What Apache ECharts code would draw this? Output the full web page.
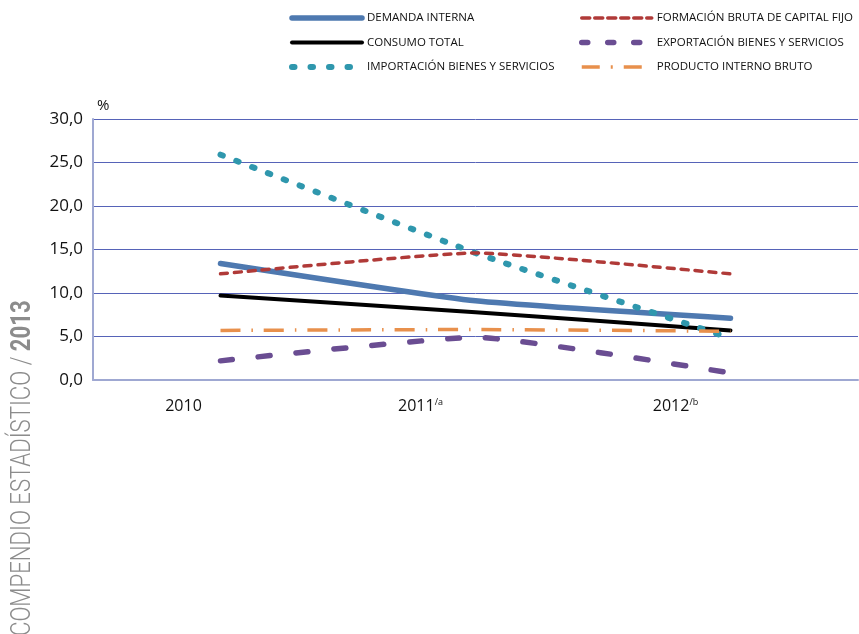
<!DOCTYPE html>
<html>
<head>
<meta charset="utf-8">
<script src="https://cdn.jsdelivr.net/npm/echarts@6/dist/echarts.min.js"></script>
<style>
  html, body { margin: 0; padding: 0; background: #fff; }
  #chart { width: 859px; height: 634px; }
</style>
</head>
<body>
<div id="chart"></div>
<script>
// datos
const years = ['2010', '2011', '2012']
const yearNotes = ['', '/a', '/b']
const demandaInterna = [13.4, 9.1, 7.1]
const consumoTotal = [9.7, 7.8, 5.7]
const importacion = [25.9, 14.6, 4.8]
const formacionBruta = [12.2, 14.6, 12.2]
const exportacion = [2.2, 4.9, 0.8]
const pib = [5.7, 5.8, 5.6]
const yTicks = [0, 5, 10, 15, 20, 25, 30]

const font = 'Open Sans'
const chart = echarts.init(document.getElementById('chart'), null, { renderer: 'canvas' })

// estilos de cada serie
const styles = {
  'DEMANDA INTERNA': { color: '#4e79b0', width: 5.5, type: 'solid', cap: 'round' },
  'CONSUMO TOTAL': { color: '#000000', width: 4, type: 'solid', cap: 'round' },
  'IMPORTACIÓN BIENES Y SERVICIOS': { color: '#2f97ad', width: 6, type: [2.5, 14.5], cap: 'round' },
  'FORMACIÓN BRUTA DE CAPITAL FIJO': { color: '#b03a38', width: 3.5, type: [7, 7], cap: 'round' },
  'EXPORTACIÓN BIENES Y SERVICIOS': { color: '#6a4d92', width: 5.5, type: [12, 26], cap: 'round' },
  'PRODUCTO INTERNO BRUTO': { color: '#e8904c', width: 3.5, type: [20, 11, 1.5, 11], cap: 'butt' }
}

function line (name, data) {
  const s = styles[name]
  return {
    name: name,
    type: 'line',
    data: data,
    symbol: 'none',
    smooth: 0.15,
    lineStyle: { color: s.color, width: s.width, type: s.type, cap: s.cap },
    itemStyle: { color: s.color }
  }
}

function legendItem (name) {
  const s = styles[name]
  let t = s.type
  if (name === 'IMPORTACIÓN BIENES Y SERVICIOS') t = [2.5, 16]
  if (name === 'FORMACIÓN BRUTA DE CAPITAL FIJO') t = [8, 5]
  if (name === 'EXPORTACIÓN BIENES Y SERVICIOS') t = [6, 20]
  if (name === 'PRODUCTO INTERNO BRUTO') t = [18, 11, 2, 11]
  return {
    name: name,
    itemStyle: { opacity: 0 },
    lineStyle: { color: s.color, width: s.width, type: t, cap: s.cap }
  }
}

const legendBase = {
  orient: 'vertical',
  top: 7,
  itemWidth: 70,
  itemHeight: 10,
  itemGap: 12.5,
  textStyle: { fontSize: 11.5, color: '#111', fontFamily: font }
}

const option = {
  animation: false,
  textStyle: { fontFamily: font },
  legend: [
    Object.assign({}, legendBase, {
      left: 284,
      data: ['DEMANDA INTERNA', 'CONSUMO TOTAL', 'IMPORTACIÓN BIENES Y SERVICIOS'].map(legendItem)
    }),
    Object.assign({}, legendBase, {
      left: 574,
      data: ['FORMACIÓN BRUTA DE CAPITAL FIJO', 'EXPORTACIÓN BIENES Y SERVICIOS', 'PRODUCTO INTERNO BRUTO'].map(legendItem)
    })
  ],
  grid: { left: 93, right: 1, top: 119, bottom: 254 },
  xAxis: {
    type: 'category',
    data: years,
    boundaryGap: true,
    axisLine: { lineStyle: { color: '#9fa8d2', width: 2 } },
    axisTick: { show: false },
    axisLabel: {
      margin: 18,
      padding: [0, 74, 0, 0],
      fontSize: 16,
      color: '#111',
      formatter: function (v, i) {
        return yearNotes[i] ? v + '{sup|' + yearNotes[i] + '}' : v
      },
      rich: {
        sup: { fontSize: 9, verticalAlign: 'top', padding: [0, 36, 8, 0], color: '#111' }
      }
    }
  },
  yAxis: {
    type: 'value',
    min: yTicks[0],
    max: yTicks[yTicks.length - 1],
    interval: 5,
    name: '%',
    nameLocation: 'end',
    nameGap: 6,
    nameTextStyle: { fontSize: 15, color: '#111', align: 'left', padding: [0, 0, 0, 4] },
    axisLine: { show: true, lineStyle: { color: '#9fa8d2', width: 2 } },
    axisTick: { show: false },
    splitLine: { lineStyle: { color: '#5663b8', width: 1 } },
    axisLabel: {
      fontSize: 17,
      color: '#111',
      margin: 10,
      formatter: function (v) { return v.toFixed(1).replace('.', ',') }
    }
  },
  graphic: [
    {
      type: 'text',
      left: 10,
      bottom: -2,
      rotation: Math.PI / 2,
      scaleX: 0.82,
      style: {
        text: '{a|COMPENDIO ESTADÍSTICO / }{b|2013}',
        rich: {
          a: { fontSize: 27, fill: '#8c8c8c', fontWeight: 300, fontFamily: 'Roboto' },
          b: { fontSize: 27, fill: '#8c8c8c', fontWeight: 'bold', fontFamily: 'Roboto' }
        }
      }
    }
  ],
  series: Object.keys(styles).map(function (name) {
    const data = {
      'DEMANDA INTERNA': demandaInterna,
      'CONSUMO TOTAL': consumoTotal,
      'IMPORTACIÓN BIENES Y SERVICIOS': importacion,
      'FORMACIÓN BRUTA DE CAPITAL FIJO': formacionBruta,
      'EXPORTACIÓN BIENES Y SERVICIOS': exportacion,
      'PRODUCTO INTERNO BRUTO': pib
    }[name]
    return line(name, data)
  })
}

chart.setOption(option)
</script>
</body>
</html>
